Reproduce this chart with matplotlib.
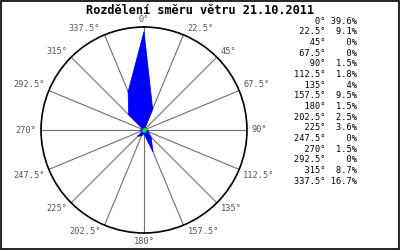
import numpy as np
import matplotlib
matplotlib.use('Agg')
import matplotlib.pyplot as plt
from matplotlib.patches import Rectangle

# smery vetru a podil v %
smery = [0, 22.5, 45, 67.5, 90, 112.5, 135, 157.5, 180, 202.5, 225, 247.5, 270, 292.5, 315, 337.5]
podil = [39.6, 9.1, 0, 0, 1.5, 1.8, 4, 9.5, 1.5, 2.5, 3.6, 0, 1.5, 0, 8.7, 16.7]
popisky = ['0°', '22.5°', '45°', '67.5°', '90°', '112.5°', '135°', '157.5°',
           '180°', '202.5°', '225°', '247.5°', '270°', '292.5°', '315°', '337.5°']
podil_txt = ['39.6%', '9.1%', '0%', '0%', '1.5%', '1.8%', '4%', '9.5%',
             '1.5%', '2.5%', '3.6%', '0%', '1.5%', '0%', '8.7%', '16.7%']
titulek = 'Rozdělení směru větru 21.10.2011'

RMAX = 41.5
MONO = 'DejaVu Sans Mono'

fig = plt.figure(figsize=(4, 2.5), dpi=100)
fig.patch.set_facecolor('white')

ax = fig.add_axes([0.1025, 0.068, 0.515, 0.824], projection='polar')
ax.set_theta_zero_location('N')
ax.set_theta_direction(-1)
ax.set_ylim(0, RMAX)
ax.grid(False)
ax.set_xticks([]); ax.set_yticks([])
ax.spines['polar'].set_color('black')
ax.spines['polar'].set_linewidth(1.2)

th = np.deg2rad(smery)
# paprsky
for t in th:
    ax.plot([t, t], [0, RMAX], color='#707070', lw=0.8, zorder=1)

# ruzice
tt = np.append(th, th[0]); rr = np.append(podil, podil[0])
ax.fill(tt, rr, color='#0000ff', lw=0.6, zorder=2)
ax.plot([0], [0], 'o', color='#00ff00', ms=2.2, zorder=3)

# popisky smeru
for t, d, lab in zip(th, smery, popisky):
    s, c = np.sin(t), np.cos(t)
    if abs(s) < 1e-6:
        ha = 'center'
    else:
        ha = 'left' if s > 0 else 'right'
    if abs(c) < 1e-6:
        va = 'center'
    else:
        va = 'bottom' if c > 0 else 'top'
    dx = 3 if ha == 'left' else (-3 if ha == 'right' else 0)
    dy = 1 if va == 'bottom' else (-1 if va == 'top' else 0)
    if d in (0, 180):
        dy = 2 if d == 0 else -3
    ax.annotate(lab, (t, RMAX), xytext=(dx, dy), textcoords='offset points',
                ha=ha, va=va, fontsize=6.2, family=MONO, color='#555555',
                annotation_clip=False)

fig.text(0.5, 0.96, titulek, ha='center', va='center', fontsize=8.6,
         family=MONO, fontweight='bold')

# tabulka vpravo
y0 = 1 - 21 / 250; dy = 10.67 / 250
for i, (lab, p) in enumerate(zip(popisky, podil_txt)):
    fig.text(357 / 400, y0 - i * dy, lab.rjust(6) + ' ' + p.rjust(5),
             ha='right', va='center', fontsize=6.2, family=MONO, color='black')

fig.add_artist(Rectangle((0.002, 0.003), 0.995, 0.994, transform=fig.transFigure,
                         fill=False, edgecolor='black', lw=1.2))

fig.savefig('out.png', dpi=100)
